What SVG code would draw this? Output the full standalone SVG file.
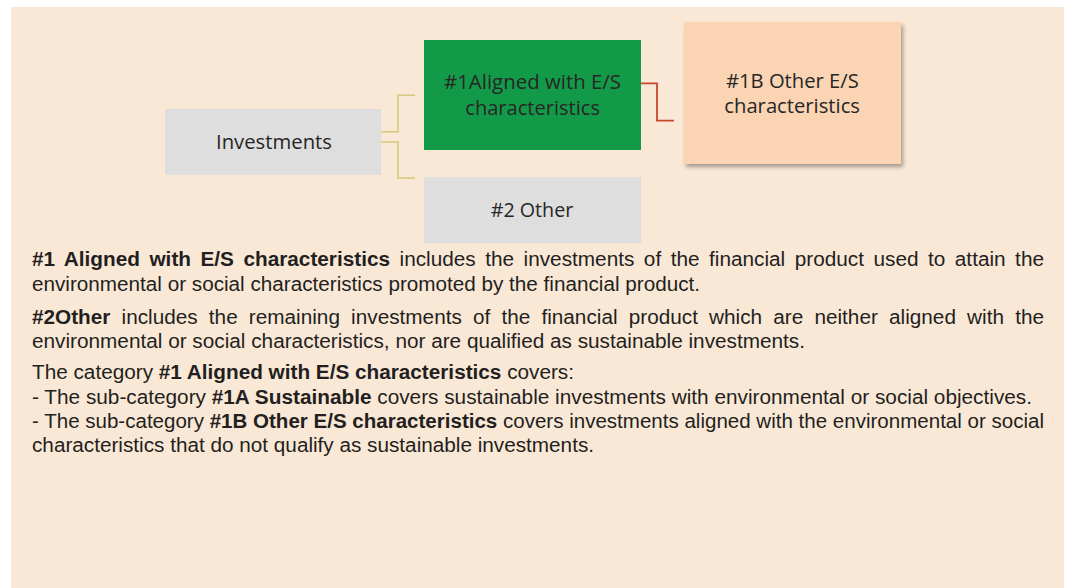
<svg xmlns="http://www.w3.org/2000/svg" width="1069" height="588" viewBox="0 0 1069 588">
  <defs>
    <filter id="shadow" x="-10%" y="-10%" width="130%" height="130%">
      <feDropShadow dx="2" dy="3" stdDeviation="2" flood-color="#000" flood-opacity="0.35"/>
    </filter>
  </defs>
  <style>
    .box-label { font-family: "Open Sans", "Noto Sans", sans-serif; font-size: 20px; fill: #262626; text-anchor: start; }
    .body { font-family: "Liberation Sans", Arial, sans-serif; font-size: 20px; fill: #231f20; }
    .b { font-weight: bold; }
    .conn-y { fill: none; stroke: #d4c87a; stroke-width: 1.6; }
    .conn-r { fill: none; stroke: #c8462b; stroke-width: 1.8; }
  </style>
  <rect x="0" y="0" width="1069" height="588" fill="#ffffff"/>
  <rect id="panel" x="11" y="7" width="1053" height="581" fill="#fae8d7"/>

  <g id="connectors">
    <polyline class="conn-y" points="381,131.7 398,131.7 398,95.3 415,95.3"/>
    <polyline class="conn-y" points="381,142 398,142 398,178 415,178"/>
    <polyline class="conn-r" points="641,83.3 657,83.3 657,120.7 674,120.7"/>
  </g>

  <g id="node-investments">
    <rect x="165" y="109" width="216" height="66" fill="#dedede"/>
    <text class="box-label" x="216" y="149" textLength="116" lengthAdjust="spacingAndGlyphs">Investments</text>
  </g>

  <g id="node-aligned">
    <rect x="424" y="40" width="217" height="110" fill="#139a48"/>
    <text class="box-label" x="444" y="89" textLength="177" lengthAdjust="spacingAndGlyphs">#1Aligned with E/S</text>
    <text class="box-label" x="465.3" y="115" textLength="134.7" lengthAdjust="spacingAndGlyphs">characteristics</text>
  </g>

  <g id="node-other">
    <rect x="424" y="177" width="217" height="66" fill="#dedede"/>
    <text class="box-label" x="490.7" y="217" textLength="82.6" lengthAdjust="spacingAndGlyphs">#2 Other</text>
  </g>

  <g id="node-1b">
    <rect x="684" y="22" width="217" height="142" fill="#fad4b3" filter="url(#shadow)"/>
    <text class="box-label" x="726" y="87.7" textLength="132.7" lengthAdjust="spacingAndGlyphs">#1B Other E/S</text>
    <text class="box-label" x="724.3" y="112.7" textLength="135.7" lengthAdjust="spacingAndGlyphs">characteristics</text>
  </g>

  <g id="description">
    <text class="body" x="32" y="266" word-spacing="3.6" textLength="1012" lengthAdjust="spacingAndGlyphs"><tspan class="b">#1 Aligned with E/S characteristics</tspan> includes the investments of the financial product used to attain the</text>
    <text class="body" x="32" y="290.5" textLength="668" lengthAdjust="spacingAndGlyphs">environmental or social characteristics promoted by the financial product.</text>
    <text class="body" x="32" y="324" word-spacing="5.2" textLength="1012" lengthAdjust="spacingAndGlyphs"><tspan class="b">#2Other</tspan> includes the remaining investments of the financial product which are neither aligned with the</text>
    <text class="body" x="32" y="348.3" textLength="773" lengthAdjust="spacingAndGlyphs">environmental or social characteristics, nor are qualified as sustainable investments.</text>
    <text class="body" x="32" y="379" textLength="542" lengthAdjust="spacingAndGlyphs">The category <tspan class="b">#1 Aligned with E/S characteristics</tspan> covers:</text>
    <text class="body" x="32" y="403.5" textLength="1000" lengthAdjust="spacingAndGlyphs">- The sub-category <tspan class="b">#1A Sustainable</tspan> covers sustainable investments with environmental or social objectives.</text>
    <text class="body" x="32" y="428" textLength="1012" lengthAdjust="spacingAndGlyphs">- The sub-category <tspan class="b">#1B Other E/S characteristics</tspan> covers investments aligned with the environmental or social</text>
    <text class="body" x="32" y="452.3" textLength="562" lengthAdjust="spacingAndGlyphs">characteristics that do not qualify as sustainable investments.</text>
  </g>
</svg>
